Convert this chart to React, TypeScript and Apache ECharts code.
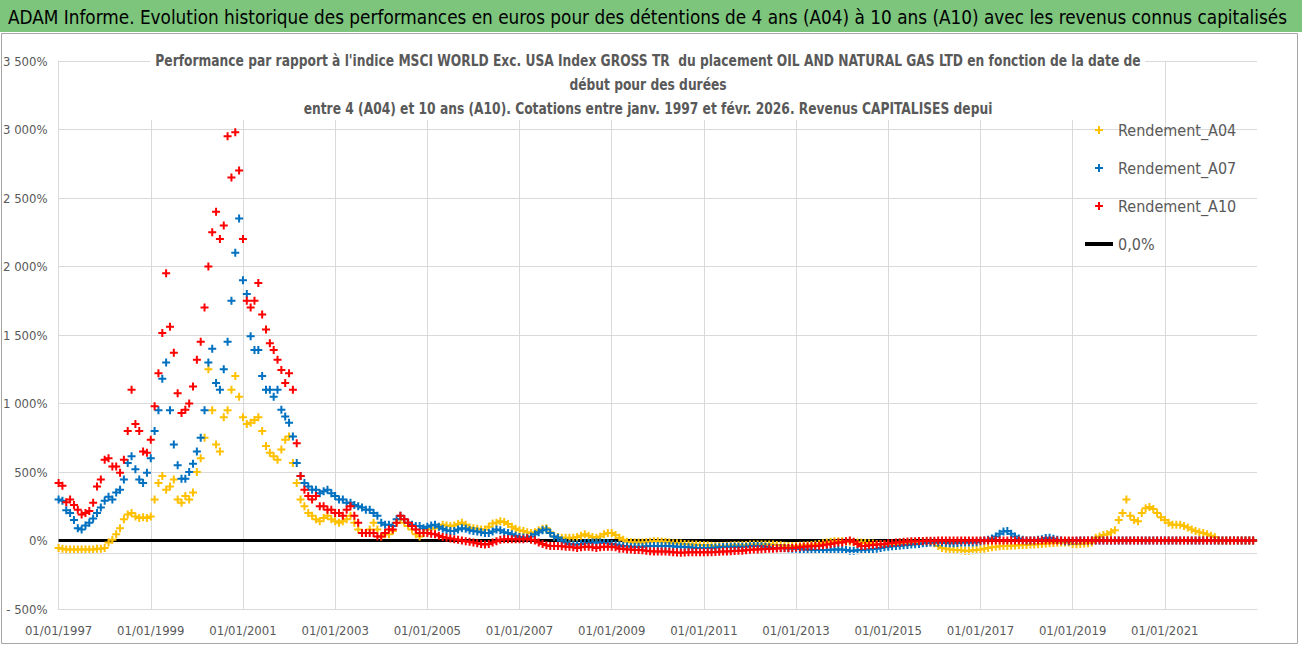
import React, { useEffect, useRef } from "react";
import * as echarts from "echarts";

// ---------- DATA (monthly, starting January 1997) ----------
const START_YEAR = 1997;
const SPAN_YEARS = 26;

// Rendement_A04 (4-year holding), % vs index
const A04 = [
  -55, -60, -65, -65, -65, -65, -65, -65, -65, -65, -60, -60, // 1997
  -55, -15, 5, 45, 90, 155, 190, 200, 175, 165, 170, 165, // 1998
  175, 300, 420, 470, 370, 395, 445, 300, 275, 325, 300, 350, // 1999
  500, 600, 750, 1250, 950, 700, 650, 900, 950, 1100, 1200, 1050, // 2000
  900, 850, 860, 880, 900, 800, 690, 640, 615, 590, 665, 735, // 2001
  760, 565, 420, 300, 250, 200, 180, 155, 140, 165, 180, 155, // 2002
  140, 130, 140, 155, 180, 130, 80, 55, 55, 80, 130, 80, // 2003
  30, 45, 45, 70, 130, 155, 130, 105, 80, 45, 30, 55, // 2004
  80, 85, 90, 100, 115, 110, 105, 110, 120, 130, 115, 95, // 2005
  90, 85, 80, 80, 100, 125, 130, 140, 135, 120, 100, 85, // 2006
  75, 70, 60, 55, 60, 75, 85, 90, 60, 30, 25, 20, // 2007
  20, 20, 20, 25, 35, 45, 35, 25, 20, 30, 45, 55, // 2008
  55, 40, 20, 5, -10, -12, -15, -15, -15, -12, -10, -5, // 2009
  -5, -8, -10, -15, -20, -20, -22, -25, -28, -30, -30, -32, // 2010
  -35, -35, -38, -40, -40, -40, -38, -36, -35, -35, -35, -32, // 2011
  -30, -30, -30, -30, -30, -30, -30, -32, -35, -38, -40, -40, // 2012
  -40, -38, -36, -35, -32, -30, -25, -20, -15, -10, -5, -5, // 2013
  -5, -8, -10, -12, -15, -15, -18, -20, -22, -25, -28, -30, // 2014
  -30, -28, -25, -22, -20, -18, -15, -12, -10, -10, -10, -12, // 2015
  -20, -40, -55, -60, -65, -68, -70, -72, -75, -75, -72, -70, // 2016
  -65, -60, -55, -50, -45, -42, -40, -40, -38, -36, -35, -33, // 2017
  -32, -30, -30, -28, -25, -22, -20, -18, -16, -15, -15, -15, // 2018
  -25, -28, -25, -22, -20, -15, 20, 30, 40, 45, 60, 75, // 2019
  150, 200, 300, 180, 150, 140, 200, 235, 245, 230, 200, 170, // 2020
  150, 130, 115, 115, 115, 105, 95, 80, 70, 60, 55, 45, // 2021
  35, 25, 0, 0, 0, 0, 0, 0, 0, 0, 0, 0, // 2022
];

// Rendement_A07 (7-year holding)
const A07 = [
  300, 290, 220, 200, 150, 90, 80, 110, 130, 160, 200, 240, // 1997
  290, 320, 300, 350, 370, 445, 565, 615, 520, 445, 420, 495, // 1998
  600, 800, 950, 1180, 1300, 950, 700, 550, 450, 450, 500, 560, // 1999
  650, 750, 950, 1300, 1400, 1150, 1100, 1250, 1450, 1750, 2100, 2350, // 2000
  1900, 1800, 1490, 1390, 1390, 1200, 1100, 1100, 1050, 1100, 955, 905, // 2001
  860, 760, 565, 470, 420, 395, 370, 370, 345, 360, 370, 345, // 2002
  325, 300, 300, 275, 275, 260, 250, 240, 225, 225, 200, 180, // 2003
  130, 115, 115, 105, 155, 180, 155, 130, 115, 105, 105, 90, // 2004
  100, 110, 115, 100, 85, 75, 70, 70, 80, 90, 85, 75, // 2005
  70, 65, 60, 55, 55, 65, 80, 75, 60, 55, 45, 35, // 2006
  25, 22, 20, 30, 45, 60, 75, 80, 55, 30, 20, 0, // 2007
  -15, -25, -30, -30, -25, -20, -18, -15, -15, -15, -18, -20, // 2008
  -25, -30, -35, -40, -42, -45, -45, -45, -45, -42, -40, -40, // 2009
  -40, -40, -40, -40, -42, -45, -45, -48, -50, -52, -55, -55, // 2010
  -55, -55, -55, -52, -50, -48, -45, -45, -45, -45, -45, -45, // 2011
  -42, -40, -40, -42, -45, -50, -55, -55, -55, -55, -58, -60, // 2012
  -60, -62, -65, -65, -68, -70, -70, -70, -70, -68, -66, -65, // 2013
  -65, -70, -75, -75, -72, -70, -68, -65, -62, -60, -55, -50, // 2014
  -45, -42, -40, -38, -35, -32, -30, -28, -25, -20, -18, -15, // 2015
  -15, -15, -15, -18, -20, -20, -18, -15, -15, -15, -15, -12, // 2016
  -5, 0, 5, 15, 30, 50, 65, 70, 50, 30, 15, 5, // 2017
  0, 0, 0, 5, 10, 18, 20, 12, 5, 0, -5, -5, // 2018
  -3, -2, 0, 0, 0, 0, 0, 0, 0, 0, 0, 0, // 2019
  0, 0, 0, 0, 0, 0, 0, 0, 0, 0, 0, 0, // 2020
  0, 0, 0, 0, 0, 0, 0, 0, 0, 0, 0, 0, // 2021
  0, 0, 0, 0, 0, 0, 0, 0, 0, 0, 0, 0, // 2022
];

// Rendement_A10 (10-year holding)
const A10 = [
  420, 400, 280, 300, 260, 225, 190, 200, 215, 275, 395, 445, // 1997
  590, 600, 540, 540, 495, 590, 800, 1100, 850, 800, 650, 640, // 1998
  735, 980, 1220, 1515, 1950, 1560, 1370, 1075, 930, 955, 1000, 1125, // 1999
  1320, 1450, 1700, 2000, 2250, 2400, 2200, 2300, 2950, 2650, 2980, 2700, // 2000
  2200, 1750, 1700, 1750, 1880, 1650, 1540, 1440, 1390, 1320, 1245, 1150, // 2001
  1220, 1100, 710, 470, 370, 325, 300, 325, 250, 250, 225, 225, // 2002
  200, 200, 180, 225, 250, 180, 130, 55, 55, 55, 55, 30, // 2003
  30, 55, 80, 80, 130, 180, 155, 130, 105, 80, 55, 55, // 2004
  55, 50, 45, 35, 25, 20, 15, 10, 5, 0, -5, -10, // 2005
  -15, -20, -25, -30, -25, -15, -5, 5, 10, 10, 10, 10, // 2006
  10, 10, 15, 5, 0, -15, -25, -35, -40, -40, -40, -42, // 2007
  -45, -45, -50, -55, -50, -45, -45, -50, -55, -50, -45, -45, // 2008
  -45, -50, -60, -60, -65, -65, -70, -70, -72, -75, -78, -80, // 2009
  -80, -80, -80, -82, -85, -88, -90, -88, -86, -85, -85, -85, // 2010
  -85, -85, -85, -84, -82, -80, -80, -78, -77, -75, -75, -72, // 2011
  -68, -66, -65, -63, -62, -60, -60, -58, -57, -56, -55, -54, // 2012
  -52, -50, -45, -44, -42, -40, -38, -35, -30, -25, -20, -15, // 2013
  -15, -5, 0, -10, -25, -40, -40, -35, -32, -30, -28, -25, // 2014
  -20, -18, -15, -12, -10, -8, -5, -5, -4, -3, -2, -2, // 2015
  -1, 0, 0, 0, 0, 0, 0, 0, 0, 0, 0, 0, // 2016
  0, 0, 0, 0, 0, 0, 0, 0, 0, 0, 0, 0, // 2017
  0, 0, 0, 0, 0, 0, 0, 0, 0, 0, 0, 0, // 2018
  0, 0, 0, 0, 0, 0, 0, 0, 0, 0, 0, 0, // 2019
  0, 0, 0, 0, 0, 0, 0, 0, 0, 0, 0, 0, // 2020
  0, 0, 0, 0, 0, 0, 0, 0, 0, 0, 0, 0, // 2021
  0, 0, 0, 0, 0, 0, 0, 0, 0, 0, 0, 0, // 2022
];

const SERIES_NAMES = ["Rendement_A04", "Rendement_A07", "Rendement_A10"];
const ZERO_NAME = "0,0%";
const ZERO_LEVEL = 0;
const LOWER_REF_LEVEL = -95;

const Y_MIN = -500;
const Y_MAX = 3500;
const Y_STEP = 500;

const HEADER =
  "ADAM Informe. Evolution historique des performances en euros pour des détentions de 4 ans (A04) à 10 ans (A10) avec les revenus connus capitalisés";
const TITLE =
  "Performance par rapport à l'indice MSCI WORLD Exc. USA Index GROSS TR  du placement OIL AND NATURAL GAS LTD en fonction de la date de\ndébut pour des durées\nentre 4 (A04) et 10 ans (A10). Cotations entre janv. 1997 et févr. 2026. Revenus CAPITALISES depui";

const COLORS = ["#FFC000", "#0070C0", "#FF0000"];
const FONT = "'Liberation Sans Narrow', 'DejaVu Sans Condensed', 'Open Sans', sans-serif";
const PLUS = "path://M3,0H5V3H8V5H5V8H3V5H0V3H3Z";
const BAR = "path://M0,0H28V4H0Z";

const toPoints = (arr: number[]) => arr.map((v, i) => [i / 12, v]);

const fmtPct = (v: number) => {
  const s = Math.abs(v)
    .toString()
    .replace(/\B(?=(\d{3})+(?!\d))/g, " ");
  return (v < 0 ? "- " : "") + s + "%";
};

export default function App() {
  const ref = useRef<HTMLDivElement>(null);

  useEffect(() => {
    if (!ref.current) return;
    const chart = echarts.init(ref.current, undefined, { renderer: "svg" });
    const scatter = [A04, A07, A10].map((arr, i) => ({
      name: SERIES_NAMES[i],
      type: "scatter",
      data: toPoints(arr),
      symbol: PLUS,
      symbolSize: 8,
      symbolKeepAspect: true,
      itemStyle: { color: COLORS[i], opacity: 1 },
      z: 3 + i,
    }));
    chart.setOption({
      animation: false,
      backgroundColor: "#ffffff",
      textStyle: { fontFamily: FONT },
      grid: { left: 57, right: 45, top: 61, bottom: 38, containLabel: false },
      legend: {
        orient: "vertical",
        left: 1080,
        top: 117,
        itemWidth: 28,
        itemHeight: 8,
        itemGap: 22,
        textStyle: { fontSize: 16, color: "#595959", fontFamily: FONT },
        data: [
          ...SERIES_NAMES,
          { name: ZERO_NAME, icon: BAR, itemStyle: { color: "#000000" } },
        ],
      },
      xAxis: {
        type: "value",
        min: 0,
        max: SPAN_YEARS,
        interval: 2,
        axisLine: { show: true, onZero: false, lineStyle: { color: "#d9d9d9" } },
        axisTick: { show: false },
        splitLine: { show: true, showMaxLine: false, lineStyle: { color: "#d9d9d9" } },
        axisLabel: {
          showMaxLabel: false,
          margin: 15,
          fontSize: 13,
          color: "#595959",
          fontFamily: FONT,
          formatter: (v: number) =>
            Math.abs(v - Math.round(v)) < 1e-6 && Math.round(v) % 2 === 0
              ? `01/01/${START_YEAR + Math.round(v)}`
              : "",
        },
      },
      yAxis: {
        type: "value",
        min: Y_MIN,
        max: Y_MAX,
        interval: Y_STEP,
        axisLine: { show: true, lineStyle: { color: "#d9d9d9" } },
        axisTick: { show: false },
        splitLine: { show: true, lineStyle: { color: "#d9d9d9" } },
        axisLabel: {
          margin: 11,
          fontSize: 13,
          color: "#595959",
          fontFamily: FONT,
          formatter: fmtPct,
        },
      },
      series: [
        {
          name: ZERO_NAME,
          type: "line",
          data: [
            [0, ZERO_LEVEL],
            [SPAN_YEARS, ZERO_LEVEL],
          ],
          symbol: "none",
          showSymbol: false,
          lineStyle: { color: "#000000", width: 3 },
          itemStyle: { color: "#000000" },
          z: 2,
          markLine: {
            silent: true,
            symbol: "none",
            label: { show: false },
            lineStyle: { color: "#d9d9d9", width: 1, type: "solid" },
            data: [{ yAxis: LOWER_REF_LEVEL }],
          },
        },
        ...scatter,
      ],
      graphic: [
        {
          type: "rect",
          shape: { x: 0, y: 0, width: 1302, height: 32 },
          style: { fill: "#7DC47D" },
          z: 20,
        },
        {
          type: "text",
          x: 8,
          y: 17,
          scaleX: 0.94,
          style: {
            text: HEADER,
            fontSize: 20,
            fontFamily: FONT,
            fill: "#000000",
            verticalAlign: "middle",
          },
          z: 21,
        },
        {
          type: "rect",
          shape: { x: 1.5, y: 33.5, width: 1296, height: 610 },
          style: { fill: "none", stroke: "#a6a6a6", lineWidth: 1 },
          z: 20,
        },
        {
          type: "rect",
          shape: { x: 150, y: 46, width: 995, height: 74 },
          style: { fill: "#ffffff" },
          z: 20,
        },
        {
          type: "text",
          x: 648,
          y: 49,
          scaleX: 0.91,
          style: {
            text: TITLE,
            fontSize: 15,
            fontWeight: "bold",
            fontFamily: FONT,
            fill: "#595959",
            align: "center",
            lineHeight: 24,
          },
          z: 21,
        },
      ],
    });
    return () => chart.dispose();
  }, []);

  return (
    <div
      ref={ref}
      style={{ position: "fixed", left: 0, top: 0, width: 1302, height: 647, background: "#fff" }}
    />
  );
}
